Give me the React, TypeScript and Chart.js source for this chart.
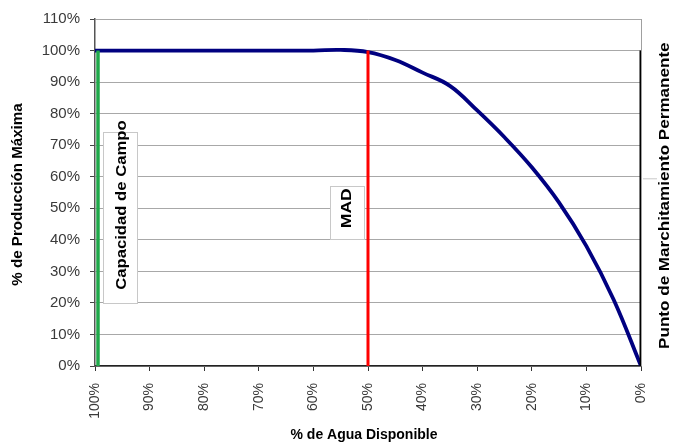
import React, { useEffect, useRef } from 'react'
import { Chart, registerables, Plugin } from 'chart.js'

Chart.register(...registerables)

// % de agua disponible (x) vs % de producción máxima (y)
const waterAvailable = [100, 90, 80, 70, 60, 55, 50, 45, 40, 35, 30, 25, 20, 15, 10, 5, 0]
const maxProduction = [100, 100, 100, 100, 100, 100.2, 99.5, 97, 93, 88.8, 81, 72.5, 63, 51.8, 38, 21, 0]

const xTicks = [100, 90, 80, 70, 60, 50, 40, 30, 20, 10, 0]
const yTicks = [0, 10, 20, 30, 40, 50, 60, 70, 80, 90, 100, 110]

// reference lines: x position and top
const fieldCapacityX = 99.45
const madX = 50
const wiltingX = 0
const lineTop = 100

const FONT = '"Liberation Sans", Arial, sans-serif'

const drawVText = (
  ctx: CanvasRenderingContext2D,
  text: string,
  cx: number,
  cy: number,
  size: number,
  stretch: number
) => {
  ctx.save()
  ctx.translate(cx, cy)
  ctx.rotate(-Math.PI / 2)
  ctx.scale(stretch, 1)
  ctx.font = `bold ${size}px ${FONT}`
  ctx.fillStyle = '#000'
  ctx.textAlign = 'center'
  ctx.textBaseline = 'middle'
  ctx.fillText(text, 0, 0)
  ctx.restore()
}

const labelsPlugin: Plugin = {
  id: 'labels',
  beforeDatasetsDraw(chart) {
    const { ctx, chartArea, scales } = chart
    const x = scales.x
    const y = scales.y
    // right border of plot area
    ctx.save()
    ctx.strokeStyle = '#a0a0a0'
    ctx.lineWidth = 1
    ctx.beginPath()
    ctx.moveTo(chartArea.right + 0.5, chartArea.top)
    ctx.lineTo(chartArea.right + 0.5, chartArea.bottom)
    ctx.stroke()
    // text boxes (x0, x1, y0, y1 in data units)
    const boxes = [
      [98.5, 92.3, 74.1, 20],
      [57, 50.8, 57.1, 40.2],
    ]
    ctx.fillStyle = '#fff'
    ctx.strokeStyle = '#c8c8c8'
    boxes.forEach(([x0, x1, y0, y1]) => {
      const l = Math.round(x.getPixelForValue(x0)) + 0.5
      const r = Math.round(x.getPixelForValue(x1)) + 0.5
      const t = Math.round(y.getPixelForValue(y0)) + 0.5
      const b = Math.round(y.getPixelForValue(y1)) + 0.5
      ctx.fillRect(l, t, r - l, b - t)
      ctx.strokeRect(l, t, r - l, b - t)
    })
    ctx.beginPath()
    ctx.moveTo(chartArea.right + 2, y.getPixelForValue(59.5) + 0.5)
    ctx.lineTo(chartArea.right + 16, y.getPixelForValue(59.5) + 0.5)
    ctx.stroke()
    ctx.restore()
  },
  afterDraw(chart) {
    const { ctx, chartArea, scales } = chart
    const x = scales.x
    const y = scales.y
    drawVText(ctx, 'Capacidad de Campo', x.getPixelForValue(95.1), y.getPixelForValue(51), 14, 1.19)
    drawVText(ctx, 'MAD', x.getPixelForValue(53.9), y.getPixelForValue(50), 14, 1.25)
    drawVText(ctx, 'Punto de Marchitamiento Permanente', chartArea.right + 24, y.getPixelForValue(54), 14, 1.22)
    // axis titles
    drawVText(ctx, '% de Producción Máxima', 18, (chartArea.top + chartArea.bottom) / 2 + 2, 14, 1.08)
    ctx.save()
    ctx.font = `bold 14px ${FONT}`
    ctx.fillStyle = '#000'
    ctx.textAlign = 'center'
    ctx.textBaseline = 'middle'
    ctx.fillText('% de Agua Disponible', (chartArea.left + chartArea.right) / 2 - 4, 435)
    ctx.restore()
  },
}

const vline = (xv: number, top: number) => [
  { x: xv, y: 0 },
  { x: xv, y: top },
]

export default function App() {
  const canvasRef = useRef<HTMLCanvasElement>(null)
  const chartRef = useRef<Chart | null>(null)

  useEffect(() => {
    if (!canvasRef.current) return
    if (chartRef.current) chartRef.current.destroy()
    chartRef.current = new Chart(canvasRef.current, {
      type: 'scatter',
      data: {
        datasets: [
          {
            data: vline(fieldCapacityX, lineTop),
            showLine: true,
            borderColor: '#1fa84a',
            borderWidth: 3.5,
            pointRadius: 0,
          },
          {
            data: vline(madX, lineTop),
            showLine: true,
            borderColor: '#ff0000',
            borderWidth: 3,
            pointRadius: 0,
          },
          {
            data: vline(wiltingX, lineTop),
            showLine: true,
            borderColor: '#000000',
            borderWidth: 3,
            pointRadius: 0,
          },
          {
            data: waterAvailable.map((v, i) => ({ x: v, y: maxProduction[i] })),
            showLine: true,
            borderColor: '#000080',
            borderWidth: 3.8,
            pointRadius: 0,
            tension: 0.4,
          },
        ],
      },
      options: {
        responsive: false,
        animation: false,
        layout: { padding: { top: 16, right: 32, left: 0, bottom: 0 } },
        plugins: {
          legend: { display: false },
          tooltip: { enabled: false },
        },
        scales: {
          x: {
            type: 'linear',
            reverse: true,
            min: 0,
            max: 100,
            afterBuildTicks: (scale) => {
              scale.ticks = xTicks.map((v) => ({ value: v }))
            },
            afterFit: (scale) => {
              scale.height = 78
            },
            ticks: {
              minRotation: 90,
              maxRotation: 90,
              padding: 12,
              color: '#3a3a3a',
              font: { family: FONT, size: 14 },
              callback: (v) => `${v}%`,
            },
            grid: {
              drawOnChartArea: false,
              drawTicks: true,
              tickLength: 5,
              tickColor: '#333',
            },
            border: { display: true, color: '#222', width: 1.5 },
          },
          y: {
            type: 'linear',
            min: 0,
            max: 110,
            afterBuildTicks: (scale) => {
              scale.ticks = yTicks.map((v) => ({ value: v }))
            },
            afterFit: (scale) => {
              scale.width = 95
            },
            ticks: {
              padding: 10,
              color: '#3a3a3a',
              font: { family: FONT, size: 15 },
              callback: (v) => `${v}%`,
            },
            grid: {
              color: '#a8a8a8',
              lineWidth: 1,
              tickLength: 5,
              tickColor: '#444',
            },
            border: { display: true, color: '#555', width: 1.5 },
          },
        },
      },
      plugins: [labelsPlugin],
    })
    return () => {
      if (chartRef.current) {
        chartRef.current.destroy()
        chartRef.current = null
      }
    }
  }, [])

  return (
    <div style={{ position: 'fixed', left: 0, top: 0, width: 673, height: 444, background: '#fff' }}>
      <canvas ref={canvasRef} width={673} height={444} />
    </div>
  )
}
